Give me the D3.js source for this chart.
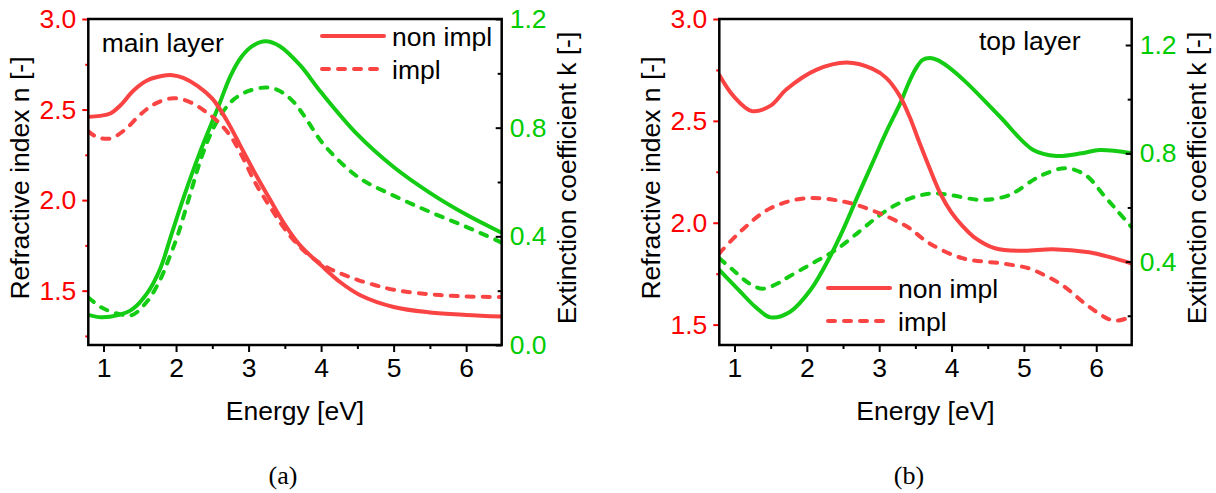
<!DOCTYPE html>
<html>
<head>
<meta charset="utf-8">
<script src="https://cdn.jsdelivr.net/npm/d3@7"></script>
<style>
  body { margin: 0; background: #fff; }
  svg { display: block; font-family: "Liberation Sans", Arial, sans-serif; }
</style>
</head>
<body>
<svg id="chart" width="1216" height="493"></svg>
<script>
// ---- data: [energy eV, value] ----
// (a) main layer
const mainNonImplN = [[0.79,2.46],[0.95,2.465],[1.1,2.48],[1.25,2.53],[1.4,2.60],[1.6,2.66],[1.8,2.685],[1.95,2.69],[2.1,2.675],[2.3,2.63],[2.5,2.56],[2.7,2.44],[2.9,2.29],[3.1,2.14],[3.3,2.0],[3.5,1.865],[3.71,1.75],[4.0,1.64],[4.27,1.545],[4.54,1.475],[5.0,1.41],[5.5,1.38],[6.0,1.366],[6.49,1.357]];
const mainImplN = [[0.79,2.38],[0.9,2.35],[1.09,2.34],[1.3,2.39],[1.5,2.47],[1.7,2.53],[1.96,2.563],[2.2,2.54],[2.4,2.49],[2.56,2.44],[2.74,2.36],[2.9,2.25],[3.1,2.09],[3.3,1.96],[3.5,1.84],[3.7,1.745],[3.9,1.675],[4.1,1.625],[4.3,1.59],[4.5,1.56],[4.75,1.53],[5.0,1.505],[5.5,1.48],[6.0,1.468],[6.49,1.465]];
const mainNonImplK = [[0.79,0.111],[0.97,0.102],[1.2,0.11],[1.39,0.13],[1.6,0.19],[1.78,0.28],[1.94,0.41],[2.1,0.54],[2.33,0.71],[2.58,0.875],[2.75,0.99],[2.9,1.06],[3.05,1.10],[3.23,1.118],[3.43,1.10],[3.71,1.03],[4.0,0.93],[4.5,0.775],[5.0,0.655],[5.5,0.56],[6.0,0.48],[6.49,0.413]];
const mainImplK = [[0.79,0.175],[0.98,0.137],[1.2,0.115],[1.39,0.11],[1.6,0.16],[1.78,0.24],[1.92,0.33],[2.03,0.41],[2.2,0.56],[2.35,0.69],[2.5,0.79],[2.65,0.86],[2.8,0.905],[3.0,0.935],[3.25,0.948],[3.43,0.935],[3.62,0.895],[3.8,0.83],[4.03,0.74],[4.5,0.62],[5.0,0.55],[5.5,0.49],[6.0,0.435],[6.49,0.377]];
// (b) top layer
const topNonImplN = [[0.79,2.725],[0.99,2.62],[1.24,2.548],[1.5,2.575],[1.72,2.655],[2.13,2.75],[2.55,2.786],[2.91,2.755],[3.1,2.71],[3.28,2.625],[3.42,2.52],[3.56,2.39],[3.7,2.265],[3.85,2.14],[4.0,2.05],[4.15,1.985],[4.31,1.93],[4.6,1.875],[5.0,1.862],[5.4,1.87],[5.9,1.855],[6.2,1.83],[6.49,1.80]];
const topImplN = [[0.79,1.85],[1.11,1.966],[1.49,2.07],[1.98,2.12],[2.52,2.103],[2.95,2.054],[3.39,1.98],[3.69,1.90],[4.15,1.826],[4.7,1.80],[5.07,1.776],[5.3,1.74],[5.53,1.694],[5.9,1.588],[6.18,1.526],[6.3,1.52],[6.49,1.539]];
const topNonImplK = [[0.79,0.369],[1.08,0.289],[1.3,0.23],[1.5,0.194],[1.77,0.215],[2.05,0.295],[2.32,0.418],[2.5,0.517],[2.7,0.64],[2.9,0.76],[3.1,0.88],[3.3,0.99],[3.4,1.055],[3.5,1.11],[3.6,1.145],[3.7,1.152],[3.8,1.145],[3.95,1.12],[4.21,1.06],[4.67,0.935],[5.13,0.812],[5.45,0.79],[5.8,0.80],[6.05,0.812],[6.49,0.80]];
const topImplK = [[0.79,0.412],[0.98,0.369],[1.2,0.32],[1.39,0.30],[1.6,0.32],[1.75,0.344],[2.08,0.394],[2.4,0.443],[2.72,0.51],[2.95,0.56],[3.2,0.605],[3.5,0.64],[3.75,0.652],[4.0,0.645],[4.4,0.628],[4.74,0.64],[4.9,0.66],[5.12,0.70],[5.3,0.725],[5.57,0.745],[5.85,0.72],[6.12,0.64],[6.3,0.585],[6.49,0.527]];

const energyTicks = [1, 2, 3, 4, 5, 6];
const energyMinor = [1.5, 2.5, 3.5, 4.5, 5.5];
const legendLabels = ["non impl", "impl"];
const panelLabels = ["main layer", "top layer"];
const captions = ["(a)", "(b)"];

const RED = "#fa4444", GREEN = "#14cc14";
const RED_TXT = "#ff0000", GREEN_TXT = "#00cc00";
const FS = 26.5;
const LW = 4, DASH = "7,9";

const svg = d3.select("#chart");

const panels = [
  { x0: 88.3, x1: 501.7, nDom: [1.2, 3.0], kDom: [0, 1.2],
    nTicks: [1.5, 2.0, 2.5, 3.0], nMinor: [1.25, 1.75, 2.25, 2.75],
    kTicks: [0, 0.4, 0.8, 1.2], kMinor: [0.2, 0.6, 1.0],
    n: [mainNonImplN, mainImplN], k: [mainNonImplK, mainImplK],
    label: panelLabels[0], labelX: 101.7, labelY: 52,
    legX: 322, legY: 36, caption: captions[0], capX: 283 },
  { x0: 719.3, x1: 1131.7, nDom: [1.4, 3.0], kDom: [0.092, 1.296],
    nTicks: [1.5, 2.0, 2.5, 3.0], nMinor: [1.75, 2.25, 2.75],
    kTicks: [0.4, 0.8, 1.2], kMinor: [0.2, 0.6, 1.0],
    n: [topNonImplN, topImplN], k: [topNonImplK, topImplK],
    label: panelLabels[1], labelX: 979, labelY: 50,
    legX: 828, legY: 288, caption: captions[1], capX: 909 }
];

const plotTop = 19, plotBottom = 345;

panels.forEach((p, pi) => {
  const x = d3.scaleLinear().domain([0.79, 6.49]).range([p.x0, p.x1]);
  const yn = d3.scaleLinear().domain(p.nDom).range([plotBottom, plotTop]);
  const yk = d3.scaleLinear().domain(p.kDom).range([plotBottom, plotTop]);
  const g = svg.append("g");

  const clipId = "clip" + pi;
  g.append("clipPath").attr("id", clipId)
    .append("rect").attr("x", p.x0).attr("y", plotTop)
    .attr("width", p.x1 - p.x0).attr("height", plotBottom - plotTop);

  const lineN = d3.line().x(d => x(d[0])).y(d => yn(d[1])).curve(d3.curveCatmullRom.alpha(0.5));
  const lineK = d3.line().x(d => x(d[0])).y(d => yk(d[1])).curve(d3.curveCatmullRom.alpha(0.5));

  const plot = g.append("g").attr("clip-path", `url(#${clipId})`)
    .attr("fill", "none").attr("stroke-width", LW).attr("stroke-linecap", "round");
  p.k.forEach((s, i) => plot.append("path").attr("d", lineK(s)).attr("stroke", GREEN)
    .attr("stroke-dasharray", i ? DASH : null));
  p.n.forEach((s, i) => plot.append("path").attr("d", lineN(s)).attr("stroke", RED)
    .attr("stroke-dasharray", i ? DASH : null));

  // axes
  const fmt = d3.format(".1f");
  const styleAxis = (sel, col, txtCol) => {
    sel.select(".domain").remove();
    sel.selectAll("line").attr("stroke", col).attr("stroke-width", 2);
    sel.selectAll("text").attr("fill", txtCol).attr("font-size", FS)
      .attr("font-family", "Liberation Sans, Arial, sans-serif");
  };

  g.append("g").attr("transform", `translate(0,${plotBottom})`)
    .call(d3.axisBottom(x).tickValues(energyTicks).tickSize(7).tickPadding(6).tickFormat(d3.format("d")))
    .call(s => styleAxis(s, "#000", "#000"));
  g.append("g").attr("transform", `translate(0,${plotBottom})`)
    .call(d3.axisBottom(x).tickValues(energyMinor).tickSize(4).tickFormat(""))
    .call(s => styleAxis(s, "#000", "#000"));

  g.append("g").attr("transform", `translate(${p.x0},0)`)
    .call(d3.axisLeft(yn).tickValues(p.nTicks).tickSize(6).tickPadding(6).tickFormat(fmt))
    .call(s => styleAxis(s, RED_TXT, RED_TXT));
  g.append("g").attr("transform", `translate(${p.x0},0)`)
    .call(d3.axisLeft(yn).tickValues(p.nMinor).tickSize(3).tickFormat(""))
    .call(s => styleAxis(s, RED_TXT, RED_TXT));

  g.append("g").attr("transform", `translate(${p.x1},0)`)
    .call(d3.axisRight(yk).tickValues(p.kTicks).tickSizeInner(-6).tickSizeOuter(0).tickPadding(8).tickFormat(fmt))
    .call(s => styleAxis(s, "#000", GREEN_TXT));
  g.append("g").attr("transform", `translate(${p.x1},0)`)
    .call(d3.axisRight(yk).tickValues(p.kMinor).tickSizeInner(-4).tickSizeOuter(0).tickFormat(""))
    .call(s => styleAxis(s, "#000", GREEN_TXT));

  // frame
  g.append("rect").attr("x", p.x0).attr("y", plotTop)
    .attr("width", p.x1 - p.x0).attr("height", plotBottom - plotTop)
    .attr("fill", "none").attr("stroke", "#000").attr("stroke-width", 2.5);

  // titles
  const cx = (p.x0 + p.x1) / 2, cy = 178;
  g.append("text").attr("x", cx).attr("y", 420).attr("text-anchor", "middle")
    .attr("font-size", FS).text("Energy [eV]");
  g.append("text").attr("transform", `translate(${p.x0 - 59},${cy}) rotate(-90)`)
    .attr("text-anchor", "middle").attr("font-size", FS).text("Refractive index n [-]");
  g.append("text").attr("transform", `translate(${p.x1 + 74},${cy}) rotate(-90)`)
    .attr("text-anchor", "middle").attr("font-size", FS).text("Extinction coefficient k [-]");

  g.append("text").attr("x", p.labelX).attr("y", p.labelY)
    .attr("font-size", FS).text(p.label);

  // legend
  legendLabels.forEach((lab, i) => {
    const ly = p.legY + i * 33;
    g.append("line").attr("x1", p.legX).attr("x2", p.legX + 62)
      .attr("y1", ly).attr("y2", ly).attr("stroke", RED).attr("stroke-width", LW)
      .attr("stroke-linecap", "round").attr("stroke-dasharray", i ? DASH : null);
    g.append("text").attr("x", p.legX + 70).attr("y", ly + 9.5)
      .attr("font-size", FS).text(lab);
  });

  g.append("text").attr("x", p.capX).attr("y", 484).attr("text-anchor", "middle")
    .attr("font-family", "Liberation Serif, Times New Roman, serif")
    .attr("font-size", 26).text(p.caption);
});
</script>
</body>
</html>
